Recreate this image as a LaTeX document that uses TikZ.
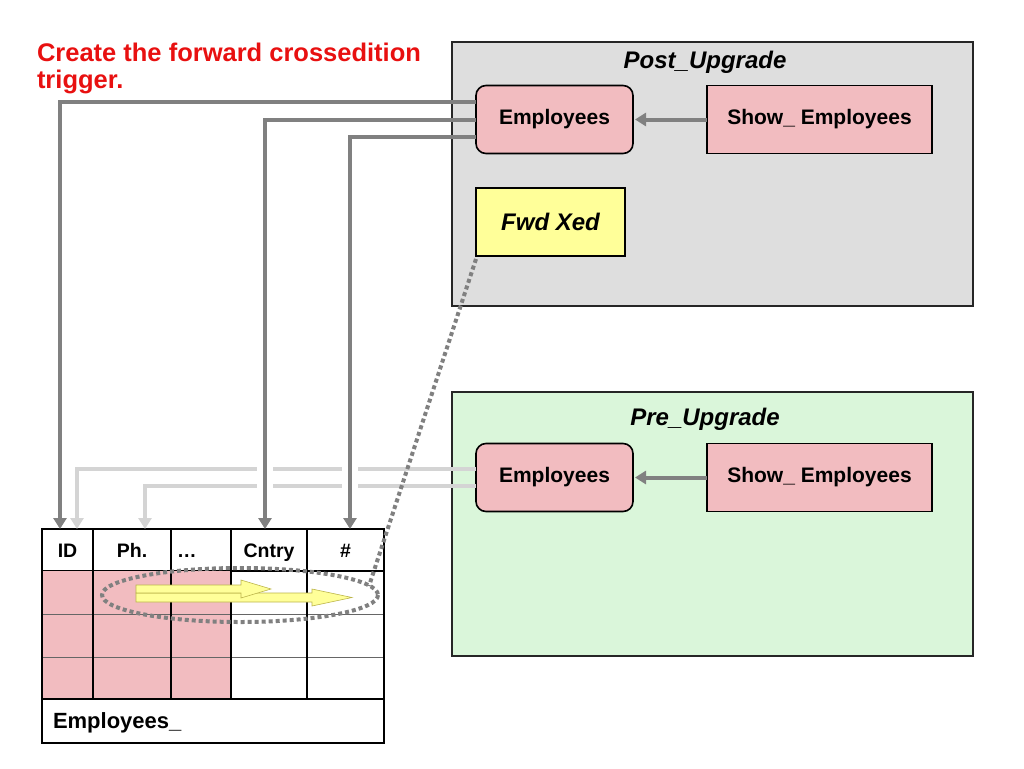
\documentclass[tikz,border=0pt]{standalone}
\usepackage{fontspec}
\setmainfont{Liberation Sans}
\usetikzlibrary{arrows.meta,positioning}

\definecolor{xedred}{RGB}{232,16,16}
\definecolor{postgray}{RGB}{222,222,222}
\definecolor{pregreen}{RGB}{218,246,218}
\definecolor{tabpink}{RGB}{242,188,192}
\definecolor{fwdyellow}{RGB}{255,255,153}
\definecolor{linkdark}{RGB}{128,128,128}
\definecolor{linklight}{RGB}{212,212,212}

\begin{document}
\begin{tikzpicture}[x=1pt,y=-1pt,>={Triangle[length=11pt,width=13pt]},line join=miter]

    \tikzstyle{every node}=[outer sep=0]
    \tikzstyle{heading}=[text=xedred,inner sep=0,font=\fontsize{25.5}{26}\selectfont\bfseries]
    \tikzstyle{edition}=[draw=black!85,line width=1.6,minimum width=521,minimum height=264]
    \tikzstyle{edtitle}=[inner sep=0,font=\fontsize{24}{28}\selectfont\bfseries\itshape]
    \tikzstyle{objbox}=[draw=black,line width=1.6,fill=tabpink,minimum height=68,font=\fontsize{21}{25}\selectfont\bfseries]
    \tikzstyle{cell}=[draw=black,line width=2,minimum height=42,inner sep=0,text height=17,text depth=3,font=\fontsize{19.5}{23}\selectfont\bfseries]
    \tikzstyle{darklink}=[draw=linkdark,line width=4,->]
    \tikzstyle{lightlink}=[draw=linklight,line width=4,->]
    \tikzstyle{hint}=[fill=fwdyellow,draw=olive!60,line width=0.6]
    \tikzstyle{lasso}=[draw=linkdark,line width=4,dash pattern=on 4pt off 3pt]

    \useasboundingbox (0,0) rectangle (1024,768);

    % title
    \node[heading,anchor=base west] (title)  at (37,62) {Create the forward crossedition};
    \node[heading,anchor=base west] (titleb) at (37,88) {trigger.};

    % editions
    \node[edition,fill=postgray] (post) at (712.5,174) {};
    \node[edition,fill=pregreen] (pre)  at (712.5,524) {};
    \node[edtitle] (posttitle) at (705,62)  {Post\_Upgrade};
    \node[edtitle] (pretitle)  at (705,419) {Pre\_Upgrade};

    \node[objbox,rounded corners=10,minimum width=157] (postEmp)  at (554.5,119.5) {Employees};
    \node[objbox,minimum width=225] (postShow) [right=74 of postEmp] {Show\_ Employees};
    \node[objbox,fill=fwdyellow,minimum width=149,font=\fontsize{24}{28}\selectfont\bfseries\itshape] (fwd) at (550.5,222) {Fwd Xed};

    \node[objbox,rounded corners=10,minimum width=157] (preEmp)  at (554.5,477.5) {Employees};
    \node[objbox,minimum width=225] (preShow) [right=74 of preEmp] {Show\_ Employees};

    % table
    \node[cell,minimum width=51] (id) at (67.5,550) {ID};
    \node[cell,minimum width=78,right=0 of id] (ph) {Ph.};
    \node[cell,minimum width=60,text width=48,align=left,inner xsep=6,right=0 of ph] (dots) {\ldots};
    \node[cell,minimum width=76,right=0 of dots] (cntry) {Cntry};
    \node[cell,minimum width=77,right=0 of cntry] (hash) {\#};

    \fill[tabpink] (id.south west) rectangle ([yshift=-128]dots.south east);
    \foreach \r in {43,86}
        \draw[black!60,line width=0.8] ([yshift=-\r]id.south west) -- ([yshift=-\r]hash.south east);
    \draw[line width=2] (id.south west) -- ++(0,128);
    \foreach \c in {id,ph,dots,cntry,hash}
        \draw[line width=2] (\c.south east) -- ++(0,128);
    \node[cell,minimum width=342,minimum height=44,text width=320,align=left,inner xsep=11,anchor=north west,
          font=\fontsize{22}{26}\selectfont\bfseries] (tabname) at ([yshift=-128]id.south west) {Employees\_};

    \coordinate (dropId)  at ([xshift=-7.5]id.north);
    \coordinate (dropIdb) at ([xshift=9.5]id.north);
    \coordinate (dropPh)  at ([xshift=13]ph.north);
    \coordinate (dropCn)  at ([xshift=-4]cntry.north);
    \coordinate (dropNo)  at ([xshift=4.5]hash.north);

    % links from pre edition
    \draw[lightlink] ([yshift=8.5]preEmp.west) -| (dropIdb);
    \draw[lightlink] ([yshift=-8.5]preEmp.west) -| (dropPh);
    \foreach \d in {dropCn,dropNo}
        \fill[white] (\d |- preEmp.west) ++(-8,-14) rectangle ++(16,28);

    % links from post edition
    \draw[darklink] ([yshift=17.5]postEmp.west) -| (dropId);
    \draw[darklink] (postEmp.west) -| (dropCn);
    \draw[darklink] ([yshift=-17.5]postEmp.west) -| (dropNo);

    \draw[darklink,shorten >=2pt] (postShow.west) -- (postEmp.east);
    \draw[darklink,shorten >=2pt] (preShow.west) -- (preEmp.east);

    % forward hint
    \draw[hint] (136,593) -- (312,593) -- (312,589) -- (352,597.5) -- (312,606) -- (312,602) -- (136,602) -- cycle;
    \draw[hint] (136,585) -- (241,585) -- (241,580) -- (271,589) -- (241,598) -- (241,593) -- (136,593) -- cycle;

    \coordinate (lassoTip) at (369,586);
    \draw[lasso] (240,595) ellipse [x radius=138,y radius=27];
    \draw[lasso] ([yshift=-3]fwd.south west) -- (lassoTip);

\end{tikzpicture}
\end{document}
